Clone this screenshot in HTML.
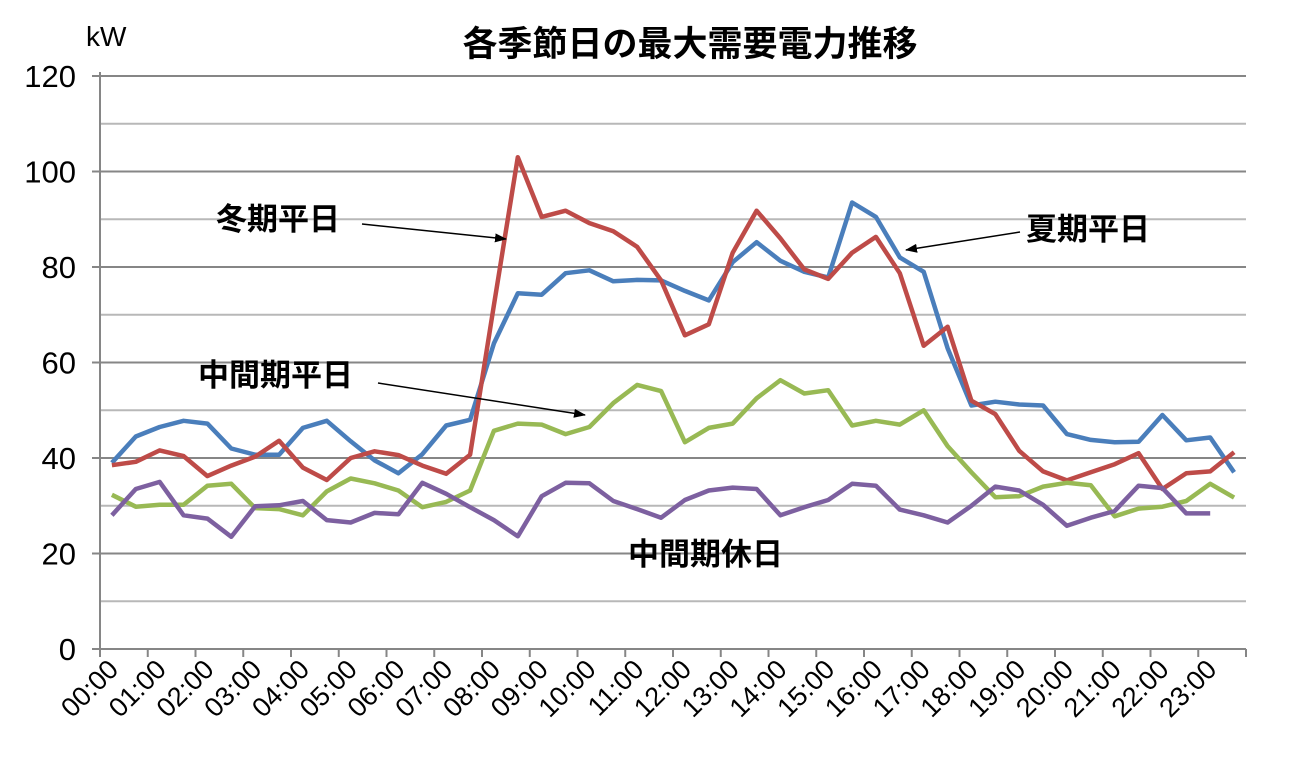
<!DOCTYPE html>
<html><head><meta charset="utf-8"><style>
body{margin:0;background:#fff;}
svg{display:block;font-family:"Liberation Sans","Noto Sans CJK JP",sans-serif;}
</style></head><body>
<svg id="c" width="1311" height="767"></svg>
<script>
const categories=[];for(let h=0;h<24;h++){categories.push(String(h).padStart(2,'0')+':00');categories.push(String(h).padStart(2,'0')+':30');}
const summer=[39,44.5,46.5,47.8,47.2,42,40.7,40.7,46.3,47.8,43.5,39.5,36.8,40.8,46.8,48,64,74.5,74.2,78.7,79.3,77,77.3,77.2,75,73,81,85.2,81.3,79,77.8,93.5,90.5,82,79,63,51,51.8,51.2,51,45,43.8,43.3,43.4,49,43.7,44.3,37];
const winter=[38.5,39.2,41.6,40.4,36.2,38.4,40.3,43.6,38,35.4,40,41.4,40.6,38.4,36.7,40.7,72,103,90.5,91.8,89.2,87.5,84.2,77.2,65.7,68,83,91.8,86,79.5,77.5,83,86.3,78.7,63.5,67.5,52,49.2,41.5,37.2,35.3,37,38.7,41,33.5,36.8,37.2,41.2];
const midWeekday=[32.3,29.8,30.2,30.2,34.2,34.6,29.5,29.3,28,33,35.7,34.7,33.2,29.7,30.8,33.2,45.7,47.2,47,45,46.5,51.5,55.3,54,43.3,46.3,47.2,52.5,56.3,53.5,54.2,46.8,47.8,47,50,42.5,37,31.8,32,34,34.8,34.3,27.8,29.4,29.8,31,34.6,31.7];
const midHoliday=[28,33.5,35,28,27.3,23.5,29.9,30.1,31,27,26.5,28.5,28.2,34.8,32.5,29.7,27,23.6,32,34.8,34.7,31,29.3,27.5,31.2,33.2,33.8,33.5,28,29.7,31.2,34.6,34.2,29.2,28,26.5,30,34,33.2,30.2,25.8,27.5,28.9,34.2,33.7,28.4,28.4,null];
const yTicks=[0,20,40,60,80,100,120];
const NS='http://www.w3.org/2000/svg';const svg=document.getElementById('c');
const X0=100,X1=1246,Y0=649,Y1=76,YMAX=120;
const step=(X1-X0)/categories.length;
const xs=i=>X0+step*(i+0.5);
const ys=v=>Y0-(v/YMAX)*(Y0-Y1);
function mk(t,a){const e=document.createElementNS(NS,t);for(const k in a)e.setAttribute(k,a[k]);svg.appendChild(e);return e;}
const defs=mk('defs',{});defs.innerHTML='<marker id="ah" markerWidth="12" markerHeight="9" refX="11" refY="4.5" orient="auto" markerUnits="userSpaceOnUse"><path d="M0,0 L12,4.5 L0,9 z" fill="#000"/></marker>';
for(let v=10;v<=YMAX;v+=10){const g=mk('line',{x1:X0,x2:X1,y1:ys(v),y2:ys(v),stroke:v%20===0?'#868686':'#b8b8b8','stroke-width':2});

}
let a=mk('line',{x1:X0,x2:X0,y1:Y1-4,y2:Y0,stroke:'#868686','stroke-width':2});


a=mk('line',{x1:X0,x2:X1,y1:Y0,y2:Y0,stroke:'#868686','stroke-width':2});


yTicks.forEach(v=>{mk('line',{x1:X0-8,x2:X0,y1:ys(v),y2:ys(v),stroke:'#868686','stroke-width':2});
const t=mk('text',{x:76,y:ys(v)+11,'text-anchor':'end','font-size':31});t.textContent=v;

});
for(let i=0;i<=categories.length;i+=2){mk('line',{x1:X0+step*i,x2:X0+step*i,y1:Y0,y2:Y0+8,stroke:'#868686','stroke-width':2});}
categories.forEach((c,i)=>{if(i%2)return;const x=xs(i)+8,y=Y0+22;
const t=mk('text',{x:x,y:y,'text-anchor':'end','font-size':27,transform:`rotate(-45 ${x} ${y})`});t.textContent=c;

});
function series(d,col,name){let p='';d.forEach((v,i)=>{if(v==null)return;p+=(p?'L':'M')+xs(i).toFixed(1)+','+ys(v).toFixed(1);});
const e=mk('path',{d:p,fill:'none',stroke:col,'stroke-width':4.5,'stroke-linejoin':'round'});

}
series(summer,'#4a7ebb','line-summer-weekday');
series(winter,'#be4b48','line-winter-weekday');
series(midWeekday,'#98b954','line-mid-weekday');
series(midHoliday,'#7d60a0','line-mid-holiday');
function txt(x,y,s,fs,name,anchor){const t=mk('text',{x:x,y:y,'font-size':fs,'font-weight':'bold','text-anchor':anchor||'start'});t.textContent=s;

return t;}
txt(690,56,'各季節日の最大需要電力推移',35,'chart-title','middle');
const kw=mk('text',{x:86,y:46,'font-size':28});kw.textContent='kW';


txt(216,230,'冬期平日',31,'label-winter-weekday');
txt(1026,240,'夏期平日',31,'label-summer-weekday');
txt(198,386,'中間期平日',31,'label-mid-weekday');
txt(628,565,'中間期休日',31,'label-mid-holiday');
[[362,224,506,239],[1020,232,906,250],[378,383,585,415]].forEach(q=>{const l=mk('line',{x1:q[0],y1:q[1],x2:q[2],y2:q[3],stroke:'#000','stroke-width':1.5,'marker-end':'url(#ah)'});

});
</script>
</body></html>
